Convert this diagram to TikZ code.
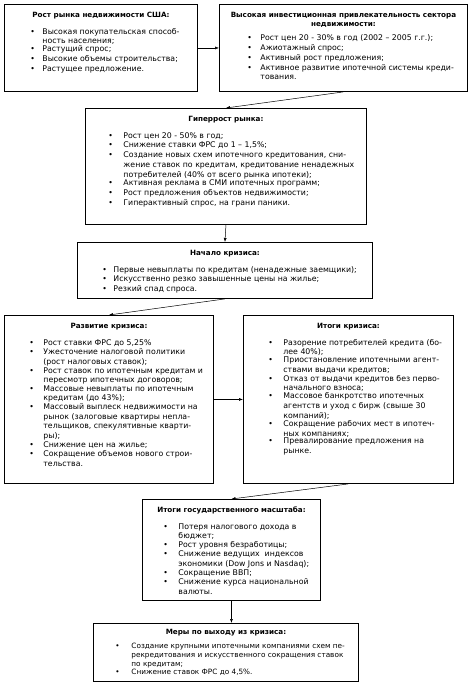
\documentclass[tikz,border=0pt]{standalone}
\usepackage{fontspec}
\setmainfont{DejaVu Sans}
\usetikzlibrary{arrows.meta}
\newlength{\bo}\newlength{\tofs}\newlength{\tw}
\newcommand{\lsk}{9.75}
\newcommand{\fsz}{7.8}
\newcommand{\itm}[1]{\par\noindent\hspace*{\bo}\makebox[\tofs][l]{•}\parbox[t]{\tw}{\fontsize{\fsz}{\lsk}\selectfont\raggedright\hyphenpenalty=10000 #1}}
\newcommand{\ttl}[2][7]{\noindent\rule{0pt}{13pt}\hfill{\fontsize{7.2}{9}\selectfont\textbf{#2}}\hfill\null\par\vspace{#1pt}}
\newcommand{\bx}[9]{% name, x, y, w, h, bullet offset, text offset, text width, content
\node[box] (#1) at (#2pt,-#3pt) {\begin{minipage}[c][#5pt][t]{#4pt}\fontsize{\fsz}{\lsk}\selectfont
\setlength{\bo}{#6pt}\setlength{\tofs}{\dimexpr#7pt-#6pt\relax}\setlength{\tw}{#8pt}#9\end{minipage}};}
\tikzset{
  box/.style={draw, line width=0.9pt, inner sep=0pt, anchor=north west, fill=white},
  arr/.style={line width=0.5pt, -{Latex[length=4pt,width=3pt]}}
}
\begin{document}
\begin{tikzpicture}[x=1pt,y=1pt]
\useasboundingbox (0,0) rectangle (471,-685);

\bx{b1}{4}{4}{193}{87}{26}{38}{152}{%
\ttl{Рост рынка недвижимости США:}
\itm{Высокая покупательская способ-\\ ность населения;}
\itm{Растущий спрос;}
\itm{Высокие объемы строительства;}
\itm{Растущее предложение.}}

\bx{b2}{219}{4}{248}{87}{28}{41}{202}{%
\noindent\rule{0pt}{13pt}\parbox[t]{248pt}{\centering\fontsize{7.2}{8.6}\selectfont\textbf{Высокая инвестиционная привлекательность сектора\\ недвижимости:}}\par\vspace{7pt}
\itm{Рост цен 20 - 30\% в год (2002 – 2005 г.г.);}
\itm{Ажиотажный спрос;}
\itm{Активный рост предложения;}
\itm{Активное развитие ипотечной системы креди-\\ тования.}}

\bx{b3}{85}{108}{281}{116}{23}{38}{238}{%
\ttl{Гиперрост рынка:}
\itm{Рост цен 20 - 50\% в год;}
\itm{Снижение ставки ФРС до 1 – 1,5\%;}
\itm{Создание новых схем ипотечного кредитования, сни-\\ жение ставок по кредитам, кредитование ненадежных\\ потребителей (40\% от всего рынка ипотеки);}
\itm{Активная реклама в СМИ ипотечных программ;}
\itm{Рост предложения объектов недвижимости;}
\itm{Гиперактивный спрос, на грани паники.}}

\bx{b4}{77}{242}{295}{56}{25}{36}{256}{%
\ttl{Начало кризиса:}
\itm{Первые невыплаты по кредитам (ненадежные заемщики);}
\itm{Искусственно резко завышенные цены на жилье;}
\itm{Резкий спад спроса.}}

\bx{b5}{4}{315}{209}{168}{25}{39}{168}{%
\ttl{Развитие кризиса:}
\itm{Рост ставки ФРС до 5,25\%}
\itm{Ужесточение налоговой политики\\ (рост налоговых ставок);}
\itm{Рост ставок по ипотечным кредитам и\\ пересмотр ипотечных договоров;}
\itm{Массовые невыплаты по ипотечным\\ кредитам (до 43\%);}
\itm{Массовый выплеск недвижимости на\\ рынок (залоговые квартиры непла-\\ тельщиков, спекулятивные кварти-\\ ры);}
\itm{Снижение цен на жилье;}
\itm{Сокращение объемов нового строи-\\ тельства.}}

\bx{b6}{243}{315}{210}{168}{25}{40}{168}{%
\ttl{Итоги кризиса:}
\itm{Разорение потребителей кредита (бо-\\ лее 40\%);}
\itm{Приостановление ипотечными агент-\\ ствами выдачи кредитов;}
\itm{Отказ от выдачи кредитов без перво-\\ начального взноса;}
\itm{Массовое банкротство ипотечных\\ агентств и уход с бирж (свыше 30\\ компаний);}
\itm{Сокращение рабочих мест в ипотеч-\\ ных компаниях;}
\itm{Превалирование предложения на\\ рынке.}}

\bx{b7}{142}{499}{178}{101}{21}{36}{140}{%
\ttl{Итоги государственного масштаба:}
\itm{Потеря налогового дохода в\\ бюджет;}
\itm{Рост уровня безработицы;}
\itm{Снижение ведущих\ \ индексов\\ экономики (Dow Jons и Nasdaq);}
\itm{Сокращение ВВП;}
\itm{Снижение курса национальной\\ валюты.}}

\renewcommand{\lsk}{9}
\renewcommand{\fsz}{7.3}
\bx{b8}{93}{623}{265}{58}{22}{38}{226}{%
\noindent\rule{0pt}{11pt}\hfill{\fontsize{7.2}{9}\selectfont\textbf{Меры по выходу из кризиса:}}\hfill\null\par\vspace{5pt}
\itm{Создание крупными ипотечными компаниями схем пе-\\ рекредитования и искусственного сокращения ставок\\ по кредитам;}
\itm{Снижение ставок ФРС до 4,5\%.}}

\draw[arr] (b1.east) -- (b1.east -| b2.west);
\draw[arr] (b2.south) -- (b3.north);
\draw[arr] (b3.south) -- (b4.north);
\draw[arr] (b4.south) -- (b5.north);
\draw[arr] (b5.east) -- (b5.east -| b6.west);
\draw[arr] (b6.south) -- (b7.north);
\draw[arr] (b7.south) -- (b7.south |- b8.north);
\end{tikzpicture}
\end{document}
